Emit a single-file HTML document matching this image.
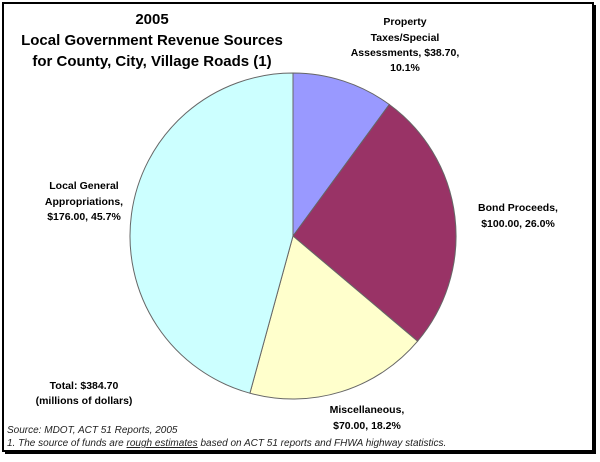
<!DOCTYPE html>
<html><head><meta charset="utf-8"><style>
body{margin:0;background:#fff;width:600px;height:457px;overflow:hidden;font-family:"Liberation Sans",Arial,sans-serif}
</style></head><body>
<svg width="600" height="457" xmlns="http://www.w3.org/2000/svg" font-family="Liberation Sans, Arial, sans-serif">
<rect x="0" y="0" width="600" height="457" fill="#fff"/>
<rect x="5" y="5" width="591" height="449" fill="#000"/>
<rect x="3" y="3" width="590" height="448" fill="#fff" stroke="#000" stroke-width="2"/>
<g stroke="#666" stroke-width="1">
<path d="M293,236 L293,73 A163,163 0 0,1 389.3,104.5 Z" fill="#9999ff"/>
<path d="M293,236 L389.3,104.5 A163,163 0 0,1 417.6,341.2 Z" fill="#993366"/>
<path d="M293,236 L417.6,341.2 A163,163 0 0,1 249.9,393.2 Z" fill="#ffffcc"/>
<path d="M293,236 L249.9,393.2 A163,163 0 0,1 293,73 Z" fill="#ccffff"/>
</g>
<g font-weight="bold" text-anchor="middle" fill="#000">
<text x="152" y="24" font-size="15">2005</text>
<text x="152" y="45" font-size="15">Local Government Revenue Sources</text>
<text x="152" y="66" font-size="15">for County, City, Village Roads (1)</text>
<g font-size="10.5">
<text x="405" y="25">Property</text>
<text x="405" y="41">Taxes/Special</text>
<text x="405" y="56">Assessments, $38.70,</text>
<text x="405" y="71">10.1%</text>
<text x="518" y="211">Bond Proceeds,</text>
<text x="518" y="227">$100.00, 26.0%</text>
<text x="367" y="413">Miscellaneous,</text>
<text x="367" y="429">$70.00, 18.2%</text>
<text x="84" y="189">Local General</text>
<text x="84" y="205">Appropriations,</text>
<text x="84" y="220">$176.00, 45.7%</text>
<text x="84" y="389">Total: $384.70</text>
<text x="84" y="404">(millions of dollars)</text>
</g>
</g>
<g font-size="10" font-style="italic" fill="#222">
<text x="7" y="433">Source: MDOT, ACT 51 Reports, 2005</text>
<text x="7" y="446">1. The source of funds are <tspan text-decoration="underline">rough estimates</tspan> based on ACT 51 reports and FHWA highway statistics.</text>
</g>
</svg>
</body></html>
